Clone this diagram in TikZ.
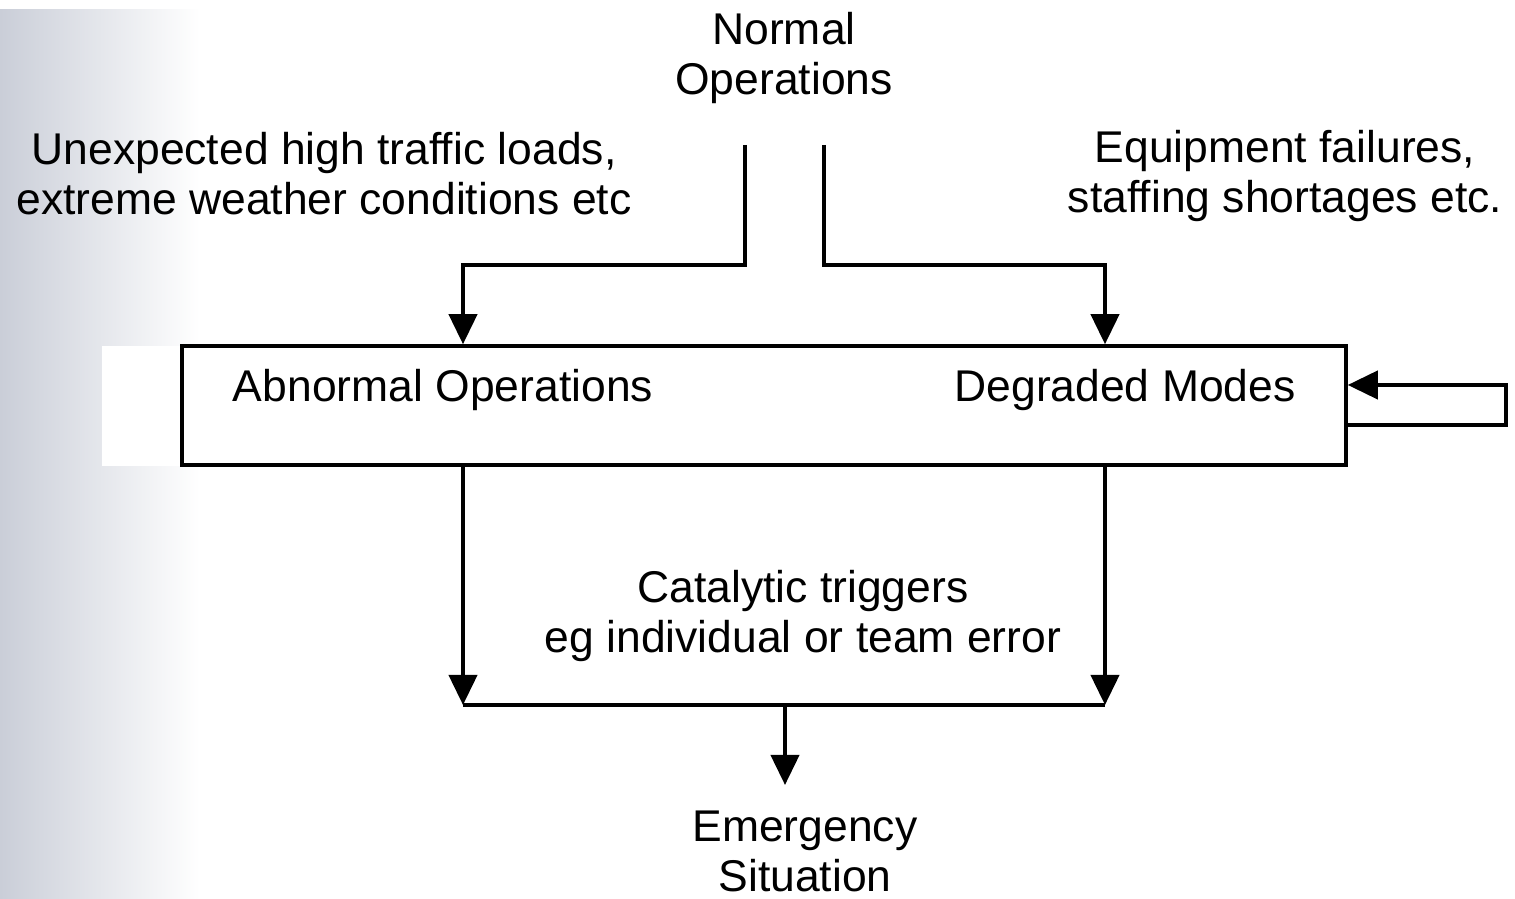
\documentclass[tikz,border=0pt]{standalone}
\usepackage{fontspec}
\setmainfont{Liberation Sans}
\usetikzlibrary{arrows.meta}
\definecolor{stripgray}{RGB}{202,206,216}

\tikzset{
  txt/.style={align=center, inner sep=0pt, font=\fontsize{12.65}{14.2}\selectfont},
  arr/.style={line width=1.15pt, -{Triangle[length=3mm,width=2.8mm]}},
  ln/.style={line width=1.15pt}
}

\begin{document}
\begin{tikzpicture}
		%%%%% START %%%%%
		\useasboundingbox (0,0) rectangle (15.15,-8.99);
		
		% shaded strip on the left
		\shade[left color=stripgray, right color=white] (0,-0.1) rectangle (2.0,-8.99);
		\fill[white] (1.02,-3.46) rectangle (1.82,-4.66);
		
		% texts
		\node[txt] (normal) at (7.84,-0.58) {Normal\\Operations};
		\node[txt] (unexp) at (3.24,-1.74) {Unexpected high traffic loads,\\extreme weather conditions etc};
		\node[txt] (equip) at (12.85,-1.76) {Equipment failures,\\staffing shortages etc.};
		\node[txt] (cata) at (8.03,-6.16) {Catalytic triggers\\eg individual or team error};
		\node[txt] (emerg) at (8.05,-8.51) {Emergency\\Situation};
		
		% the box
		\node[draw, line width=1pt, fill=white, minimum width=11.64cm, minimum height=1.19cm, inner sep=0pt] (box) at (7.64,-4.055) {};
		\node[txt] (abn) at (4.43,-3.9) {Abnormal Operations};
		\node[txt] (deg) at (11.25,-3.9) {Degraded Modes};
		
		% joints
		\coordinate (nL) at (7.45,-1.45);
		\coordinate (nR) at (8.24,-1.45);
		\coordinate (jL) at (4.63,-2.65);
		\coordinate (jR) at (11.05,-2.65);
		\coordinate (mL) at (4.63,-7.05);
		\coordinate (mR) at (11.05,-7.05);
		\coordinate (mC) at (7.85,-7.05);
		\coordinate (eTop) at (7.85,-7.85);
		\coordinate (fbB) at (15.06,-4.25);
		\coordinate (fbT) at (15.06,-3.85);
		
		% from normal operations
		\draw[arr] (nL) |- (jL) -- (jL |- box.north);
		\draw[arr] (nR) |- (jR) -- (jR |- box.north);
		
		% loop on the right
		\draw[arr] (box.east |- fbB) -| (fbT) -- (box.east |- fbT);
		
		% down to the emergency
		\draw[arr] (box.south -| mL) -- (mL);
		\draw[arr] (box.south -| mR) -- (mR);
		\draw[ln] (mL) -- (mR);
		\draw[arr] (mC) -- (eTop);
		
		%%%%% END %%%%%
	\end{tikzpicture}
\end{document}
